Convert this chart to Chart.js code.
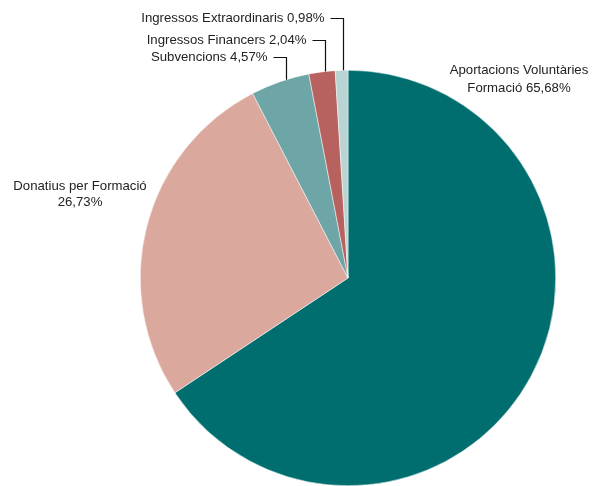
<!DOCTYPE html>
<html><head><meta charset="utf-8">
<script src="https://cdn.jsdelivr.net/npm/chart.js@4"></script>
<style>html,body{margin:0;padding:0;background:#fff}#w{width:594px;height:486px}</style>
</head><body><div id="w"><canvas id="c" width="594" height="486"></canvas></div>
<script>
const categories = ["Aportacions Voluntàries Formació","Donatius per Formació","Subvencions","Ingressos Financers","Ingressos Extraordinaris"];
const values = [65.68, 26.73, 4.57, 2.04, 0.98];
const valueLabels = ["65,68%","26,73%","4,57%","2,04%","0,98%"];
const colors = ["#006e6e","#dba89e","#6ea5a7","#b8625f","#b9d4d2"];

const labelPlugin = {
  id: 'labels',
  afterDraw(chart) {
    const ctx = chart.ctx;
    const arcs = chart.getDatasetMeta(0).data;
    ctx.save();
    ctx.font = '13.2px "Liberation Sans", Arial, sans-serif';
    ctx.fillStyle = '#222';
    ctx.textBaseline = 'middle';
    ctx.textAlign = 'center';
    ctx.fillText("Aportacions Voluntàries", 519, 70);
    ctx.fillText("Formació " + valueLabels[0], 519, 88);
    ctx.fillText("Donatius per Formació", 80, 186);
    ctx.fillText(valueLabels[1], 80, 202);
    const textY = {2: 57, 3: 40, 4: 18};
    ctx.strokeStyle = '#111';
    ctx.lineWidth = 1.2;
    [2,3,4].forEach(i => {
      const a = arcs[i];
      const ang = a.startAngle + 0.6 * (a.endAngle - a.startAngle);
      const px = a.x + a.outerRadius * Math.cos(ang);
      const py = a.y + a.outerRadius * Math.sin(ang);
      const vx = Math.round(px) + 0.5;
      const ty = textY[i] + 0.5;
      ctx.beginPath();
      ctx.moveTo(vx, py);
      ctx.lineTo(vx, ty);
      ctx.lineTo(vx - 13, ty);
      ctx.stroke();
      ctx.textAlign = 'right';
      ctx.fillText(categories[i] + " " + valueLabels[i], vx - 19, textY[i]);
    });
    ctx.restore();
  }
};

new Chart(document.getElementById('c'), {
  type: 'pie',
  data: { labels: categories, datasets: [{ data: values, backgroundColor: colors, borderWidth: 0.5, borderColor: '#ffffff' }] },
  options: {
    responsive: false, animation: false,
    layout: { padding: { left: 140, right: 38, top: 70, bottom: 0 } },
    plugins: { legend: { display: false }, tooltip: { enabled: false } }
  },
  plugins: [labelPlugin]
});
</script></body></html>
